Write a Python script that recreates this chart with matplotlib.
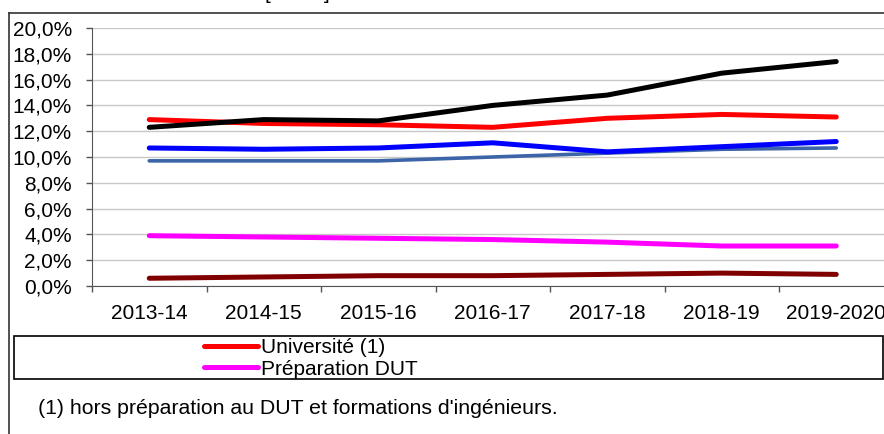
import matplotlib.pyplot as plt
from matplotlib.lines import Line2D
from matplotlib.patches import Rectangle
from matplotlib.ticker import FixedLocator, FuncFormatter

plt.rcParams['font.family'] = ['Liberation Sans', 'DejaVu Sans']

# Data
years = ['2013-14', '2014-15', '2015-16', '2016-17', '2017-18', '2018-19', '2019-2020']
serie_noire = [12.3, 12.9, 12.8, 14.0, 14.8, 16.5, 17.4]
universite = [12.9, 12.6, 12.5, 12.3, 13.0, 13.3, 13.1]
serie_bleue = [10.7, 10.6, 10.7, 11.1, 10.4, 10.8, 11.2]
serie_bleu_gris = [9.7, 9.7, 9.7, 10.0, 10.3, 10.6, 10.7]
prep_dut = [3.9, 3.8, 3.7, 3.6, 3.4, 3.1, 3.1]
serie_bordeaux = [0.6, 0.7, 0.8, 0.8, 0.9, 1.0, 0.9]

W, H = 884, 434
fig = plt.figure(figsize=(W / 100, H / 100), dpi=100)
ax = fig.add_axes([92 / W, (H - 286) / H, 801.5 / W, 258 / H])

x = range(len(years))
ax.plot(x, serie_bordeaux, color='#800000', lw=3.6, solid_capstyle='round', zorder=3)
ax.plot(x, prep_dut, color='#FF00FF', lw=3.6, solid_capstyle='round', zorder=3,
        label='Préparation DUT')
ax.plot(x, serie_bleu_gris, color='#3C64A8', lw=2.6, solid_capstyle='round', zorder=3)
ax.plot(x, serie_bleue, color='#0000FF', lw=3.6, solid_capstyle='round', zorder=3)
ax.plot(x, universite, color='#FF0000', lw=3.6, solid_capstyle='round', zorder=3,
        label='Université (1)')
ax.plot(x, serie_noire, color='black', lw=3.6, solid_capstyle='round', zorder=4)

ax.set_xlim(-0.5, len(years) - 0.5)
ax.set_ylim(0, 20)

# y axis
ax.set_yticks(range(0, 21, 2))
ax.yaxis.set_major_formatter(FuncFormatter(lambda v, p: f'{v:.1f}%'.replace('.', ',')))
ax.grid(axis='y', color='#C8C8C8', lw=1)
ax.set_axisbelow(True)
ax.tick_params(axis='y', length=4.5, width=1, color='#555555', pad=10, labelsize=15)

# x axis: ticks between categories, labels centred
ax.xaxis.set_major_locator(FixedLocator([i - 0.5 for i in range(len(years) + 1)]))
ax.xaxis.set_minor_locator(FixedLocator(list(x)))
ax.xaxis.set_major_formatter(FuncFormatter(lambda v, p: ''))
ax.set_xticks(list(x), years, minor=True)
ax.tick_params(axis='x', which='major', length=4.5, width=1, color='#555555')
ax.tick_params(axis='x', which='minor', length=0, pad=13, labelsize=15)

for s in ['top', 'right']:
    ax.spines[s].set_visible(False)
ax.spines['left'].set_color('#555555')
ax.spines['bottom'].set_color('#555555')

# outer frame (cropped)
fig.add_artist(Line2D([9 / W, 9 / W], [0, 1 - 13 / H], color='#333333', lw=1.2))
fig.add_artist(Line2D([9 / W, 1], [1 - 13 / H, 1 - 13 / H], color='#333333', lw=1.2))

# title brackets cut off at top
fig.text(265 / W, 1 + 1.5 / H, '[', fontsize=15, ha='left', va='baseline')
fig.text(330 / W, 1 + 1.5 / H, ']', fontsize=15, ha='right', va='baseline')

# legend box
fig.add_artist(Rectangle((14 / W, 1 - 379 / H), (883 - 14) / W, 43 / H,
                         fill=False, edgecolor='black', lw=1.2))
handles, labels = ax.get_legend_handles_labels()
order = [labels.index('Université (1)'), labels.index('Préparation DUT')]
fig.legend([handles[i] for i in order], [labels[i] for i in order],
           loc='upper left', bbox_to_anchor=(204 / W, 1 - 338 / H),
           frameon=False, fontsize=15, handlelength=2.6, handletextpad=0.15,
           labelspacing=0.13, borderpad=0, borderaxespad=0)

fig.text(38 / W, 1 - 408 / H, "(1) hors préparation au DUT et formations d'ingénieurs.",
         fontsize=15.3, ha='left', va='center')

fig.savefig('out.png', dpi=100)
